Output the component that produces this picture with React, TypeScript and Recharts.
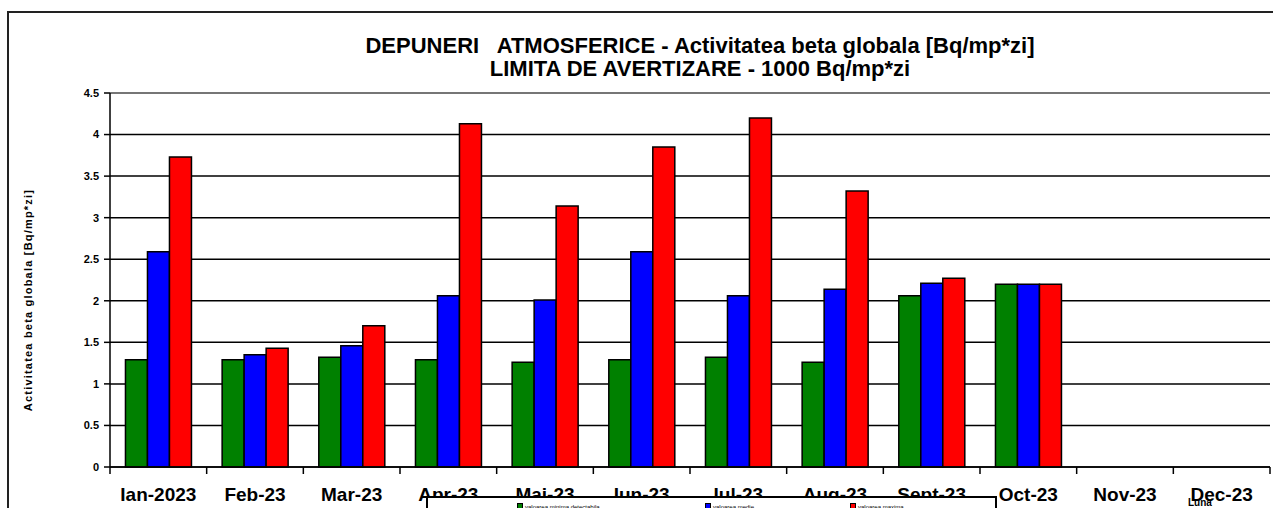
import React from 'react';
import { BarChart, Bar, XAxis, YAxis, CartesianGrid, ReferenceLine } from 'recharts';

const MONTHS = ['Ian-2023', 'Feb-23', 'Mar-23', 'Apr-23', 'Mai-23', 'Iun-23', 'Iul-23', 'Aug-23', 'Sept-23', 'Oct-23', 'Nov-23', 'Dec-23'];
const MIN_VALUES = [1.29, 1.29, 1.32, 1.29, 1.26, 1.29, 1.32, 1.26, 2.06, 2.2, null, null];
const MED_VALUES = [2.59, 1.35, 1.46, 2.06, 2.01, 2.59, 2.06, 2.14, 2.21, 2.2, null, null];
const MAX_VALUES = [3.73, 1.43, 1.7, 4.13, 3.14, 3.85, 4.2, 3.32, 2.27, 2.2, null, null];
const Y_TICKS = [0, 0.5, 1, 1.5, 2, 2.5, 3, 3.5, 4, 4.5];
const SERIES = [
  { key: 'min', name: 'valoarea minima detectabila', color: '#008000' },
  { key: 'med', name: 'valoarea medie', color: '#0000FF' },
  { key: 'max', name: 'valoarea maxima', color: '#FF0000' },
];

const data = MONTHS.map((m, i) => ({ month: m, min: MIN_VALUES[i], med: MED_VALUES[i], max: MAX_VALUES[i] }));

const W = 1273;
const H = 508;
const M = { top: 93, right: 3, bottom: 0, left: 70 };
const YW = 40;
const PLOT_W = W - M.left - YW - M.right;
const FONT = '"Liberation Sans", Arial, sans-serif';

const XTick = (props: any) => {
  const { x, y, payload, index } = props;
  const half = PLOT_W / MONTHS.length / 2;
  return (
    <g>
      <line x1={x - half} x2={x - half} y1={y} y2={y + 7} stroke="#000" strokeWidth={1.5} />
      {index === MONTHS.length - 1 && (
        <line x1={x + half} x2={x + half} y1={y} y2={y + 7} stroke="#000" strokeWidth={1.5} />
      )}
      <text x={x} y={y + 34} textAnchor="middle" fontFamily={FONT} fontWeight="bold" fontSize={19} fill="#000">
        {payload.value}
      </text>
    </g>
  );
};

export default function App() {
  return (
    <div style={{ position: 'absolute', left: 0, top: 0, width: W, height: H, overflow: 'hidden', background: '#fff', fontFamily: FONT }}>
      <div style={{ position: 'absolute', left: 7, top: 11, width: W, height: H, borderTop: '2px solid #222', borderLeft: '2px solid #222' }} />
      <BarChart width={W} height={H} data={data} margin={M} barCategoryGap="16%" barGap={0}>
        <CartesianGrid vertical={false} stroke="#000" strokeWidth={1.5} yAxisId="l" />
        <XAxis
          dataKey="month"
          height={41}
          tickLine={false}
          tickSize={0}
          tickMargin={0}
          interval={0}
          axisLine={{ stroke: '#000', strokeWidth: 1.5 }}
          tick={<XTick />}
        />
        <YAxis
          yAxisId="l"
          width={YW}
          domain={[0, 4.5]}
          ticks={Y_TICKS}
          interval={0}
          tickSize={6}
          tickMargin={5}
          tickLine={{ stroke: '#000', strokeWidth: 1.5 }}
          axisLine={{ stroke: '#000', strokeWidth: 1.5 }}
          tick={{ fill: '#000', fontSize: 11, fontWeight: 'bold', fontFamily: FONT }}
        />
        <YAxis
          yAxisId="r"
          orientation="right"
          width={0}
          domain={[0, 4.5]}
          tick={false}
          tickLine={false}
          axisLine={{ stroke: '#888', strokeWidth: 1.5 }}
        />
        <ReferenceLine yAxisId="l" y={4.5} stroke="#888" strokeWidth={1.5} />
        {SERIES.map((s) => (
          <Bar key={s.key} yAxisId="l" dataKey={s.key} name={s.name} fill={s.color} stroke="#000" strokeWidth={1.5} isAnimationActive={false} />
        ))}
      </BarChart>
      <div style={{ position: 'absolute', left: 0, width: 1400, top: 34, textAlign: 'center', fontWeight: 'bold', fontSize: 22, lineHeight: '23px', whiteSpace: 'pre', color: '#000' }}>
        {'DEPUNERI   ATMOSFERICE - Activitatea beta globala [Bq/mp*zi]'}
        <br />
        {'LIMITA DE AVERTIZARE - 1000 Bq/mp*zi'}
      </div>
      <div
        style={{
          position: 'absolute',
          left: 28,
          top: 300,
          transform: 'translate(-50%, -50%) rotate(-90deg)',
          fontSize: 11,
          fontWeight: 'bold',
          whiteSpace: 'nowrap',
          letterSpacing: 1.2,
          color: '#000',
        }}
      >
        Activitatea beta globala [Bq/mp*zi]
      </div>
      <div style={{ position: 'absolute', left: 1188, top: 497, fontSize: 10, fontWeight: 'bold', color: '#000' }}>Luna</div>
      <div style={{ position: 'absolute', left: 426, top: 496, width: 571, height: 30, background: '#fff', border: '2px solid #000', boxSizing: 'border-box' }}>
        {SERIES.map((s, i) => (
          <div key={s.key} style={{ position: 'absolute', left: [89, 277, 422][i], top: 2, display: 'flex', alignItems: 'flex-end', fontSize: 6, whiteSpace: 'nowrap' }}>
            <span style={{ display: 'inline-block', width: 4, height: 6, background: s.color, border: '1px solid #000', marginRight: 2 }} />
            <span style={{ lineHeight: '8px', marginTop: 3 }}>{s.name}</span>
          </div>
        ))}
      </div>
    </div>
  );
}
